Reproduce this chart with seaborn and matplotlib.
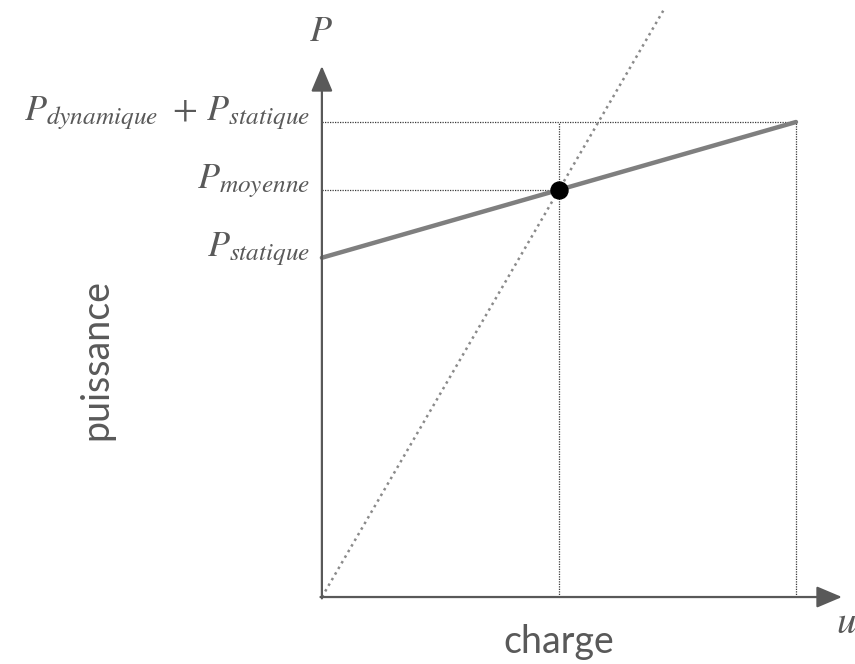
import matplotlib
matplotlib.use("Agg")
import matplotlib.pyplot as plt
import seaborn as sns
import pandas as pd
import numpy as np

# ---- data ----
u_points = [0.0, 0.5, 1.0]          # charge: 0, moyenne, max
P_statique = 5.0
P_dynamique = 2.0
P_moyenne = 6.0
u_moyenne = 0.5
u_max = 1.0
u_ligne_fin = 0.72                  # end of the dotted line through origin
y_labels = [r"$P_{statique}$", r"$P_{moyenne}$", r"$P_{dynamique}\ +\, P_{statique}$"]

sns.set_theme(style="white")
plt.rcParams["mathtext.fontset"] = "stix"
plt.rcParams["font.family"] = ["Lato", "DejaVu Sans"]

fig = plt.figure(figsize=(8.55, 6.64), dpi=100)
ax = fig.add_axes([0, 0, 1, 1])
ax.set_xlim(-0.679, 1.1245)
ax.set_ylim(-0.987, 8.798)
ax.axis("off")

P_max = P_statique + P_dynamique
dark = "#595959"

# reference dotted lines
ref_kw = dict(color="#3a3a3a", lw=0.9, ls=(0, (1, 1)), zorder=1)
ax.plot([0, u_max], [P_max, P_max], **ref_kw)
ax.plot([0, u_moyenne], [P_moyenne, P_moyenne], **ref_kw)
ax.plot([u_moyenne, u_moyenne], [0, P_max], **ref_kw)
ax.plot([u_max, u_max], [0, P_max], **ref_kw)

# main power line
df = pd.DataFrame({"u": [u_points[0], u_points[2]], "P": [P_statique, P_max]})
sns.lineplot(data=df, x="u", y="P", ax=ax, color="#7f7f7f", lw=3.2, zorder=3)

# dotted line through origin
slope = P_moyenne / u_moyenne
df2 = pd.DataFrame({"u": [0.0, u_ligne_fin], "P": [0.0, slope * u_ligne_fin]})
sns.lineplot(data=df2, x="u", y="P", ax=ax, color="#8a8a8a", lw=1.8,
             ls=(0, (1, 1.6)), zorder=2)

# point
sns.scatterplot(x=[u_moyenne], y=[P_moyenne], ax=ax, color="black", s=150,
                edgecolor="black", zorder=5)

# axes arrows
arrow_kw = dict(arrowstyle="-|>,head_length=1.3,head_width=0.55", color=dark, lw=1.6,
                shrinkA=0, shrinkB=0)
ax.annotate("", xy=(1.097, 0), xytext=(-0.003, 0), arrowprops=arrow_kw, zorder=4)
ax.annotate("", xy=(0, 7.825), xytext=(0, -0.02), arrowprops=arrow_kw, zorder=4)

# y labels
for val, lab in zip([P_statique, P_moyenne, P_max], y_labels):
    ax.text(-0.025, val + 0.02, lab, ha="right", va="baseline", fontsize=26, color=dark)

ax.text(-0.003, 8.35, r"$P$", ha="center", va="center", fontsize=26, color=dark)
ax.text(1.105, -0.37, r"$u$", ha="center", va="center", fontsize=28, color=dark)
ax.text(u_moyenne, -0.66, "charge", ha="center", va="center", fontsize=27, color=dark)
ax.text(-0.475, 3.50, "puissance", ha="center", va="center", rotation=90,
        fontsize=27, color=dark)

fig.savefig("out.png", dpi=100)
